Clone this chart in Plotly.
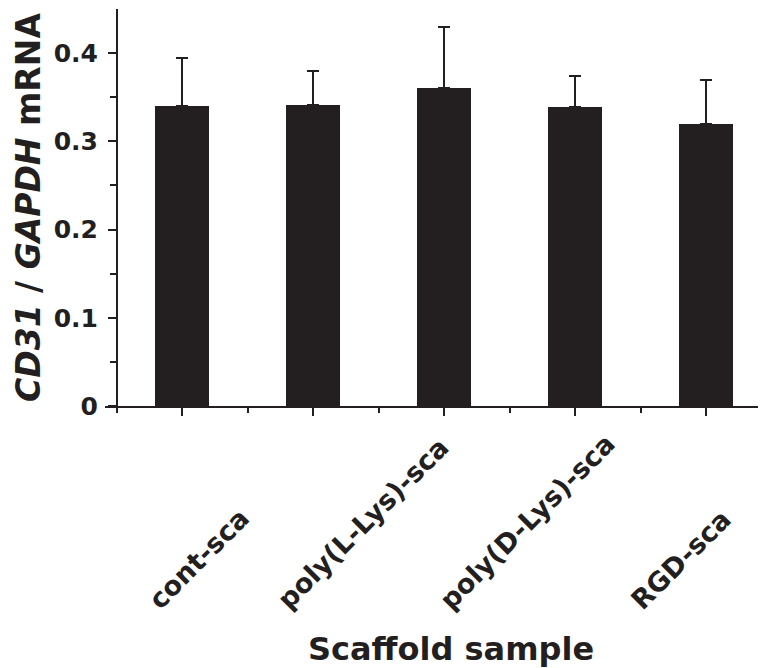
import plotly.graph_objects as go

# ---- data ----
bar_positions = [0, 1, 2, 3, 4]
bar_values = [0.340, 0.341, 0.361, 0.339, 0.320]
bar_errors_up = [0.055, 0.039, 0.069, 0.035, 0.050]

label_texts = ["cont-sca", "poly(L-Lys)-sca", "poly(D-Lys)-sca", "RGD-sca"]
label_positions = [-0.32, 0.66, 1.90, 3.36]

y_tick_vals = [0, 0.1, 0.2, 0.3, 0.4]
y_tick_text = ["0", "0.1", "0.2", "0.3", "0.4"]
y_minor_vals = [0.05, 0.15, 0.25, 0.35]
x_minor_vals = [-0.5, 0.5, 1.5, 2.5, 3.5]

INK = "#231f20"
FONT = "DejaVu Sans"

fig = go.Figure()
fig.add_trace(go.Bar(
    x=bar_positions,
    y=bar_values,
    width=0.41,
    marker=dict(color=INK, line=dict(width=0)),
    error_y=dict(type="data", symmetric=False, array=bar_errors_up,
                 arrayminus=[0] * len(bar_errors_up),
                 color=INK, thickness=2, width=6),
    showlegend=False,
))

annotations = []
for txt, xp in zip(label_texts, label_positions):
    annotations.append(dict(
        text=txt, x=xp, xref="x", y=-0.534, yref="paper",
        xanchor="left", yanchor="bottom", textangle=-45, showarrow=False,
        font=dict(family=FONT, size=27, color=INK, weight="bold"),
    ))
annotations.append(dict(
    text="Scaffold sample", x=0.53, xref="paper", y=-0.612, yref="paper",
    xanchor="center", yanchor="middle", showarrow=False,
    font=dict(family=FONT, size=32, color=INK, weight="bold"),
))

fig.update_layout(
    width=760, height=668,
    margin=dict(l=105, r=2, t=9, b=262, autoexpand=False),
    paper_bgcolor="white", plot_bgcolor="white",
    bargap=0,
    annotations=annotations,
    xaxis=dict(
        range=[-0.588, 4.397], automargin=False,
        showgrid=False, zeroline=False,
        showline=True, linewidth=2, linecolor=INK,
        ticks="outside", ticklen=8, tickwidth=2, tickcolor=INK,
        tickmode="array", tickvals=bar_positions, showticklabels=False,
        minor=dict(tickmode="array", tickvals=x_minor_vals, ticks="outside",
                   ticklen=5, tickwidth=2, tickcolor=INK),
    ),
    yaxis=dict(
        range=[0, 0.45], automargin=False,
        anchor="free", position=0.0184,
        showgrid=False, zeroline=False,
        showline=True, linewidth=2, linecolor=INK,
        ticks="outside", ticklen=8, tickwidth=2, tickcolor=INK,
        tickmode="array", tickvals=y_tick_vals, ticktext=y_tick_text,
        ticklabelstandoff=5,
        tickfont=dict(family=FONT, size=25, color=INK, weight="bold"),
        minor=dict(tickmode="array", tickvals=y_minor_vals, ticks="outside",
                   ticklen=6, tickwidth=2, tickcolor=INK),
        title=dict(text="<i>CD31</i> / <i>GAPDH</i> mRNA", standoff=2,
                   font=dict(family=FONT, size=33, color=INK, weight="bold")),
    ),
)

fig.write_html("out.html",
               config={"displayModeBar": False, "staticPlot": True},
               post_script="document.body.style.margin='0';document.body.style.padding='0';")
